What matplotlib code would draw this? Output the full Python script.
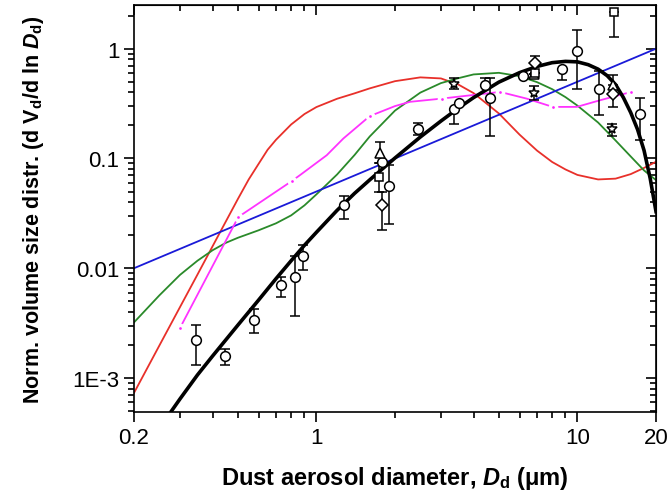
import matplotlib
matplotlib.use('Agg')
import matplotlib.pyplot as plt
from matplotlib.ticker import LogLocator, NullFormatter, FixedLocator

plt.rcParams['font.family'] = ['Liberation Sans', 'DejaVu Sans']
plt.rcParams['mathtext.fontset'] = 'custom'
plt.rcParams['mathtext.rm'] = 'Liberation Sans:bold'
plt.rcParams['mathtext.it'] = 'Liberation Sans:italic:bold'
plt.rcParams['mathtext.bf'] = 'Liberation Sans:bold'

# model curves
curve_x = [0.2, 0.25, 0.3, 0.35, 0.4, 0.45, 0.5, 0.55, 0.6, 0.65, 0.7, 0.8, 0.9, 1.0, 1.2, 1.4, 1.6,
           2, 2.5, 3, 3.5, 4, 5, 6, 7, 8, 9, 10, 12, 14, 16, 18, 20]
red_y = [7.31e-4, 1.97e-3, 4.42e-3, 8.74e-3, 0.01585, 0.02675, 0.0427, 0.0643, 0.0891, 0.12, 0.148,
         0.204, 0.254, 0.294, 0.350, 0.392, 0.435, 0.506, 0.548, 0.536, 0.471, 0.394, 0.257, 0.165,
         0.118, 0.0929, 0.0794, 0.0708, 0.0644, 0.0655, 0.072, 0.082, 0.0933]

green_x = [0.2, 0.25, 0.3, 0.35, 0.4, 0.45, 0.5, 0.6, 0.7, 0.8, 0.9, 1.0, 1.2, 1.4, 1.6, 2, 2.5, 3,
           3.5, 4, 5, 6, 7, 8, 9, 10, 12, 14, 16, 18, 20]
green_y = [3.21e-3, 5.65e-3, 8.69e-3, 0.0117, 0.01458, 0.01705, 0.01894, 0.02215, 0.02565, 0.0303,
           0.0374, 0.0471, 0.0715, 0.1076, 0.1585, 0.273, 0.398, 0.486, 0.539, 0.583, 0.603, 0.562,
           0.496, 0.428, 0.362, 0.303, 0.2125, 0.1458, 0.1043, 0.0778, 0.0635]

blue_x = [0.2, 2.0, 20]
blue_y = [0.01, 0.1, 1.0]

black_x = [0.27, 0.3, 0.35, 0.4, 0.5, 0.6, 0.7, 0.8, 0.9, 1.0, 1.2, 1.4, 1.6, 2, 2.5, 3, 3.5, 4, 5,
           6, 7, 8, 9, 10, 11, 12, 13, 14, 15, 16, 17, 18, 19, 20]
black_y = [4.51e-4, 6.44e-4, 1.065e-3, 1.585e-3, 3.03e-3, 5.12e-3, 8.03e-3, 0.0117, 0.0162, 0.02125,
           0.0337, 0.0481, 0.0638, 0.101, 0.1568, 0.2193, 0.2877, 0.3585, 0.496, 0.605, 0.689, 0.746,
           0.7665, 0.759, 0.715, 0.651, 0.568, 0.471, 0.3585, 0.262, 0.1835, 0.1182, 0.0658, 0.0328]

mag_line_x = [0.30, 0.502, 0.804, 0.865, 1.095, 1.268, 1.60, 2.0, 2.28, 3.02, 5.05, 6.39, 8.04, 9.94, 12.2, 16.1]
mag_line_y = [2.85e-3, 0.0293, 0.0622, 0.0705, 0.107, 0.152, 0.243, 0.30, 0.328, 0.351, 0.404, 0.351,
              0.295, 0.295, 0.339, 0.404]
mag_dot_x = [0.30, 0.502, 0.804, 1.60, 3.02, 5.05, 8.04, 16.1]
mag_dot_y = [2.85e-3, 0.0293, 0.0622, 0.243, 0.351, 0.404, 0.295, 0.404]

# measurements: x, y, lower, upper
circ_x = [0.346, 0.446, 0.575, 0.732, 0.828, 0.891, 1.275, 1.78, 1.90, 2.45, 3.37, 3.52,
          4.44, 4.61, 6.17, 8.70, 9.94, 12.07, 17.4]
circ_y = [2.23e-3, 1.57e-3, 3.39e-3, 7.05e-3, 8.4e-3, 0.0130, 0.0376, 0.0933, 0.056, 0.1846, 0.285, 0.323,
          0.471, 0.356, 0.565, 0.648, 0.959, 0.433, 0.253]
circ_lo = [1.32e-3, 1.32e-3, 2.57e-3, 5.42e-3, 3.68e-3, 9.65e-3, 0.0279, 0.0933, 0.0251, 0.163, 0.208, 0.323,
           0.471, 0.1595, 0.565, 0.515, 0.433, 0.251, 0.147]
circ_hi = [3.05e-3, 1.84e-3, 4.24e-3, 8.28e-3, 0.01285, 0.0163, 0.0454, 0.0933, 0.0869, 0.2125, 0.285, 0.323,
           0.54, 0.54, 0.565, 0.648, 1.49, 0.627, 0.356]

tri_x = [1.75, 6.79, 13.65]
tri_y = [0.111, 0.593, 0.471]
tri_lo = [0.09, 0.593, 0.39]
tri_hi = [0.14, 0.593, 0.572]

sq_x = [1.74, 6.85, 13.8]
sq_y = [0.068, 0.60, 2.16]
sq_lo = [0.05, 0.60, 1.29]
sq_hi = [0.09, 0.60, 2.16]

dia_x = [1.78, 6.86, 13.65]
dia_y = [0.0376, 0.741, 0.39]
dia_lo = [0.0222, 0.741, 0.295]
dia_hi = [0.05, 0.859, 0.47]

star_x = [3.37, 6.82, 13.6]
star_y = [0.474, 0.398, 0.184]
star_lo = [0.433, 0.339, 0.161]
star_hi = [0.545, 0.458, 0.208]

fig = plt.figure(figsize=(6.72, 5.02), dpi=100)
ax = fig.add_axes([0.1994, 0.1773, 0.7768, 0.8107])

ax.plot(curve_x, red_y, color='#e8302a', lw=1.3)
ax.plot(green_x, green_y, color='#2a8a2a', lw=1.3)
ax.plot(blue_x, blue_y, color='#1a1ad8', lw=1.3)
ax.plot(mag_line_x, mag_line_y, color='#ff33ff', lw=1.3)
ax.plot(mag_dot_x, mag_dot_y, 'o', color='#ff22ff', ms=4.5, mec='white', mew=2.5)
ax.plot(black_x, black_y, color='black', lw=2.6)

def points(x, y, lo, hi, marker, ms):
    yerr = [[yy - l for yy, l in zip(y, lo)], [h - yy for yy, h in zip(y, hi)]]
    ax.errorbar(x, y, yerr=yerr, fmt=marker, ms=ms, mfc='white', mec='black', mew=1.1,
                ecolor='black', elinewidth=1.1, capsize=3.5, capthick=1.1, zorder=5)

points(circ_x, circ_y, circ_lo, circ_hi, 'o', 7)
points(tri_x, tri_y, tri_lo, tri_hi, '^', 7)
points(sq_x, sq_y, sq_lo, sq_hi, 's', 6)
points(dia_x, dia_y, dia_lo, dia_hi, 'D', 6)
points(star_x, star_y, star_lo, star_hi, '*', 8)

ax.set_xscale('log')
ax.set_yscale('log')
ax.set_xlim(0.2, 20)
ax.set_ylim(4.9e-4, 2.5)

ax.xaxis.set_major_locator(FixedLocator([0.2, 1, 10, 20]))
ax.set_xticklabels(['0.2', '1', '10', '20'])
ax.xaxis.set_minor_locator(LogLocator(base=10, subs=range(2, 10)))
ax.xaxis.set_minor_formatter(NullFormatter())
ax.yaxis.set_major_locator(FixedLocator([1e-3, 1e-2, 1e-1, 1]))
ax.set_yticklabels(['1E-3', '0.01', '0.1', '1'])
ax.yaxis.set_minor_locator(LogLocator(base=10, subs=range(2, 10)))
ax.yaxis.set_minor_formatter(NullFormatter())

ax.tick_params(which='both', direction='out', labelsize=16, width=1.2)
ax.tick_params(which='major', length=7)
ax.tick_params(which='minor', length=4)
for s in ax.spines.values():
    s.set_linewidth(1.2)

top = ax.secondary_xaxis('top')
top.xaxis.set_major_locator(FixedLocator([0.2, 1, 10, 20]))
top.xaxis.set_minor_locator(LogLocator(base=10, subs=range(2, 10)))
top.tick_params(which='both', direction='in', labeltop=False, width=1.2)
top.tick_params(which='major', length=7)
top.tick_params(which='minor', length=4)
top.xaxis.set_minor_formatter(NullFormatter())
right = ax.secondary_yaxis('right')
right.yaxis.set_major_locator(FixedLocator([1e-3, 1e-2, 1e-1, 1]))
right.yaxis.set_minor_locator(LogLocator(base=10, subs=range(2, 10)))
right.tick_params(which='both', direction='in', labelright=False, width=1.2)
right.tick_params(which='major', length=7)
right.tick_params(which='minor', length=4)
right.yaxis.set_minor_formatter(NullFormatter())

ax.set_xlabel('Dust aerosol diameter, $D_\\mathrm{d}$ (\u03bcm)', fontsize=17, fontweight='bold', labelpad=12)
ax.set_ylabel('Norm. volume size distr. (d V$_\\mathrm{d}$/d ln $D_\\mathrm{d}$)', fontsize=15.5,
              fontweight='bold')
ax.yaxis.set_label_coords(-0.168, 0.5)

fig.savefig('out.png', dpi=100)
